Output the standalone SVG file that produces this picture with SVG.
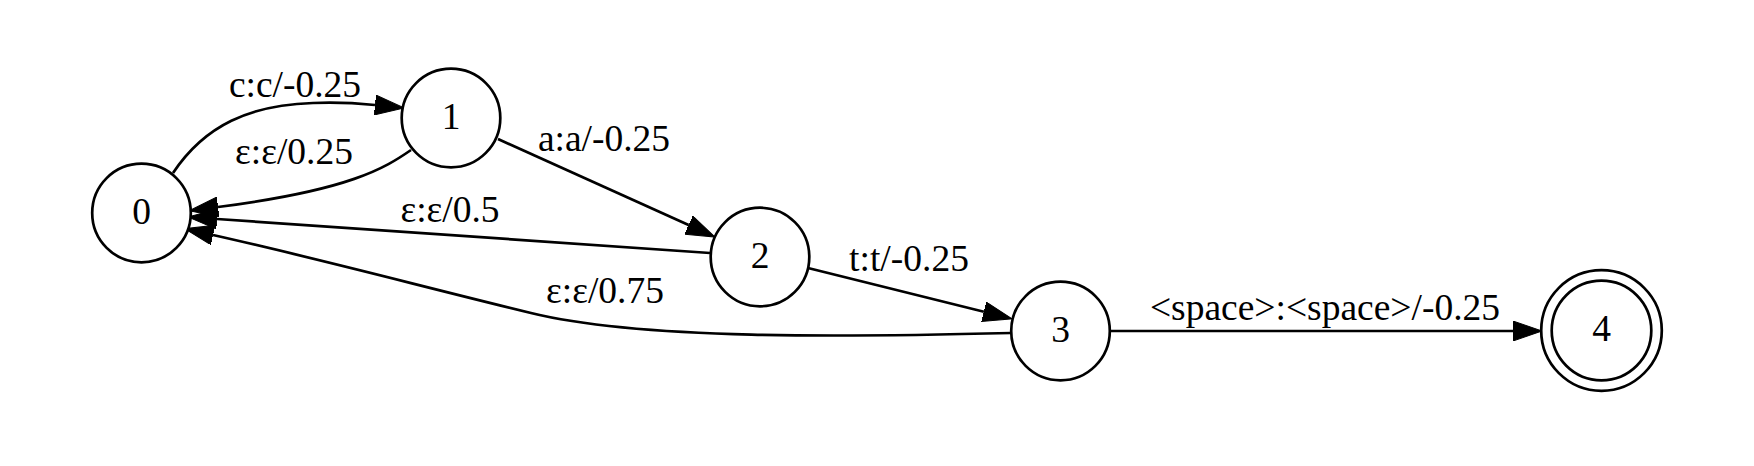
<svg xmlns="http://www.w3.org/2000/svg" width="1754" height="466" viewBox="0 0 1754 466">
<defs>
<marker id="arrow" markerUnits="userSpaceOnUse" viewBox="0 0 29 20" refX="0" refY="10" markerWidth="29" markerHeight="20" orient="auto">
<path d="M0,0 L29,10 L0,20 z" fill="#000" stroke="#000" stroke-width="1"/>
</marker>
<style>
.node{fill:#fff;stroke:#000;stroke-width:2.7}
.edge{fill:none;stroke:#000;stroke-width:2.7;marker-end:url(#arrow)}
.lbl{font-size:37.5px;fill:#000;text-anchor:middle}
</style>
</defs>
<rect width="1754" height="466" fill="#fff"/>
<g font-family="Liberation Serif, Times New Roman, DejaVu Serif, serif">
<g id="edges">
<g id="e01"><path class="edge" d="M173,173 C205,125 250,105 313,103 C335,102 355,103 375,105"/><text class="lbl" x="295" y="97">c:c/-0.25</text></g>
<g id="e10"><path class="edge" d="M411,150 C385,168 350,190 218,207"/><text class="lbl" x="294" y="164">ε:ε/0.25</text></g>
<g id="e12"><path class="edge" d="M498,139 L688.6,225.1"/><text class="lbl" x="604" y="151">a:a/-0.25</text></g>
<g id="e20"><path class="edge" d="M710,253 L217,219"/><text class="lbl" x="450" y="222">ε:ε/0.5</text></g>
<g id="e23"><path class="edge" d="M808,268 L983.9,311.8"/><text class="lbl" x="909" y="271">t:t/-0.25</text></g>
<g id="e30"><path class="edge" d="M1011,333 C850,337 640,340 531,313 C420,286 320,259 213,235"/><text class="lbl" x="605" y="303">ε:ε/0.75</text></g>
<g id="e34"><path class="edge" d="M1109,331 L1513,331"/><text class="lbl" x="1325" y="320">&lt;space&gt;:&lt;space&gt;/-0.25</text></g>
</g>
<g id="node0"><circle class="node" cx="141.5" cy="213" r="49.3"/><text class="lbl" x="141.5" y="223.5">0</text></g>
<g id="node1"><circle class="node" cx="451" cy="118" r="49.3"/><text class="lbl" x="451" y="128.5">1</text></g>
<g id="node2"><circle class="node" cx="760" cy="257" r="49.3"/><text class="lbl" x="760" y="267.5">2</text></g>
<g id="node3"><circle class="node" cx="1060.5" cy="331" r="49.3"/><text class="lbl" x="1060.5" y="341.5">3</text></g>
<g id="node4"><circle class="node" cx="1601.5" cy="330.5" r="60.3"/><circle class="node" cx="1601.5" cy="330.5" r="49.8"/><text class="lbl" x="1601.5" y="341">4</text></g>
</g>
</svg>
